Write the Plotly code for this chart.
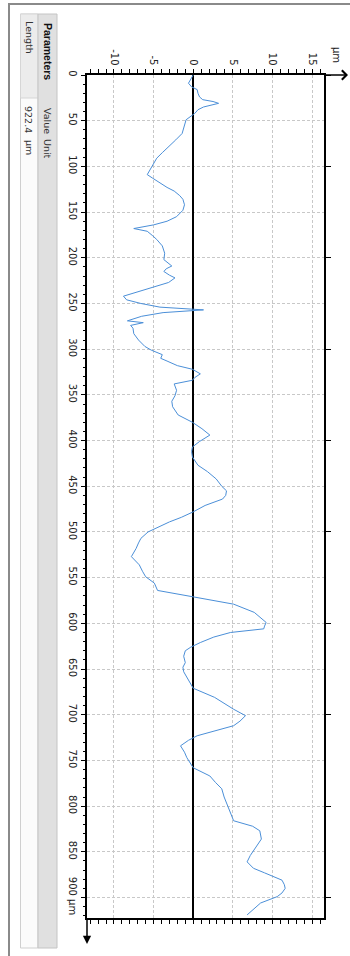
import plotly.graph_objects as go

# Surface profile: position along the trace (µm) and height (µm)
length_um = [0, 5, 9, 13, 16, 20, 24, 27, 29, 31, 33, 35, 38, 42, 49, 56, 64, 71, 78, 85, 91, 100, 105, 109,
             113, 118, 123, 127, 132, 136, 142, 148, 155, 160, 164, 168, 171, 176, 180, 187, 195, 202, 206, 209,
             212, 215, 219, 222, 227, 231, 236, 240, 242, 246, 250, 254, 257, 260, 264, 269, 271, 274, 277, 283,
             290, 297, 301, 306, 310, 313, 318, 322, 327, 331, 334, 338, 345, 351, 357, 363, 372, 380, 387, 394,
             401, 407, 412, 418, 427, 434, 442, 450, 455, 460, 464, 471, 478, 484, 489, 500, 507, 512, 518, 527,
             536, 543, 549, 556, 564, 571, 579, 588, 594, 599, 603, 606, 610, 615, 621, 626, 630, 636, 643, 648,
             653, 662, 671, 681, 688, 694, 701, 707, 712, 717, 723, 728, 734, 741, 747, 758, 767, 774, 781, 790,
             796, 805, 816, 822, 827, 836, 846, 854, 861, 868, 873, 877, 881, 886, 890, 895, 899, 906, 913, 919]
height_um = [0.0, -0.3, -0.6, -0.2, 0.5, 0.6, 0.8, 1.2, 2.5, 3.2, 2.4, 1.3, 0.6, 0.2, -0.9, -1.1, -1.4, -2.2,
             -3.1, -3.9, -4.6, -5.2, -5.5, -5.8, -5.1, -4.2, -3.3, -2.4, -1.7, -1.3, -1.1, -1.3, -2.1, -3.3,
             -5.0, -7.5, -5.8, -5.1, -4.6, -3.9, -3.6, -3.7, -3.1, -2.7, -3.4, -3.7, -3.0, -2.3, -3.1, -4.6,
             -6.3, -7.8, -8.8, -8.4, -6.6, -4.2, 1.3, -3.8, -6.5, -8.3, -6.3, -7.9, -7.6, -7.5, -6.9, -6.1,
             -5.3, -3.9, -4.1, -3.3, -2.0, -0.1, 0.9, 0.2, -0.1, -2.4, -2.1, -2.3, -2.7, -2.6, -1.9, -0.1, 1.1,
             2.1, 0.8, -0.1, -0.2, -0.1, 0.6, 1.8, 2.9, 3.6, 4.2, 4.1, 3.7, 1.5, 0.0, -1.5, -3.0, -5.7, -6.6,
             -6.9, -7.2, -7.8, -6.8, -6.4, -6.0, -4.9, -4.5, 0.0, 5.1, 7.7, 8.6, 9.2, 9.0, 8.9, 4.7, 2.6, 0.9,
             -0.3, -1.0, -1.2, -1.0, -1.3, -1.2, -0.6, 0.0, 2.7, 4.0, 5.1, 6.6, 5.9, 5.1, 3.0, 0.5, -0.6, -1.6,
             -1.1, -0.8, 0.0, 2.1, 2.8, 3.6, 3.9, 4.2, 4.6, 5.1, 7.5, 8.4, 8.6, 7.8, 7.2, 6.8, 7.6, 9.0, 10.2,
             11.2, 11.5, 11.6, 11.2, 10.6, 8.5, 7.6, 6.8]

height_ticks = [-10, -5, 0, 5, 10, 15]
height_labels = ["-10", "-5", "0", "5", "10", "15"]
length_ticks = list(range(0, 901, 50))
length_labels = [str(v) for v in length_ticks[:-1]] + ["900 µm"]
length_major_right = list(range(0, 901, 100))
total_length = 922.4

param_header = ["Parameters", "Value", "Unit"]
param_row = ["Length", "922.4", "µm"]

W, H = 350, 956
L, R, T, B = 87, 324, 75, 918  # plot box in pixels


def px(xp):
    return (xp - L) / (R - L)


def py(yp):
    return (B - yp) / (B - T)


font = "DejaVu Sans"
ink = "#222222"
grid = "#c8c8c8"
dash = "3px,2px"

fig = go.Figure()
fig.add_trace(go.Scatter(x=height_um, y=length_um, mode="lines",
                         line=dict(color="#4b8fd8", width=1), hoverinfo="skip",
                         showlegend=False))
# invisible copy that carries the right-hand tick axis
fig.add_trace(go.Scatter(x=height_um, y=length_um, mode="lines", yaxis="y2",
                         line=dict(color="rgba(0,0,0,0)", width=0), hoverinfo="skip",
                         showlegend=False))

fig.update_layout(
    width=W, height=H,
    margin=dict(l=L, r=W - R, t=T, b=H - B),
    paper_bgcolor="white", plot_bgcolor="white",
    font=dict(family=font, size=10, color=ink),
    xaxis=dict(side="top", range=[-13.4, 16.5], tickmode="array",
               tickvals=height_ticks, ticktext=height_labels, tickangle=90,
               ticks="outside", ticklen=4, tickcolor="black", tickwidth=1,
               minor=dict(dtick=1, ticks="outside", ticklen=2, tickcolor="black", showgrid=False),
               showline=True, linecolor="black", linewidth=2, mirror="allticks",
               showgrid=True, gridcolor=grid, griddash=dash, gridwidth=1,
               zeroline=True, zerolinecolor="black", zerolinewidth=2,
               tickfont=dict(family=font, size=10, color=ink)),
    yaxis=dict(range=[total_length, 0], tickmode="array", tickvals=length_ticks,
               ticktext=length_labels, tickangle=90,
               ticks="outside", ticklen=4, tickcolor="black", tickwidth=1,
               minor=dict(dtick=10, ticks="outside", ticklen=2, tickcolor="black", showgrid=False),
               showline=True, linecolor="black", linewidth=2, mirror=True,
               showgrid=True, gridcolor=grid, griddash=dash, gridwidth=1,
               zeroline=False, tickfont=dict(family=font, size=10, color=ink)),
    yaxis2=dict(overlaying="y", side="right", matches="y", range=[total_length, 0],
                tickmode="array", tickvals=length_major_right, showticklabels=False,
                ticks="outside", ticklen=6, tickcolor="black", showgrid=False,
                zeroline=False, showline=False),
)

shapes = []
# outer frame
shapes.append(dict(type="rect", xref="paper", yref="paper", x0=px(9), x1=px(360),
                   y0=py(970), y1=py(4), line=dict(color="#8a8a8a", width=2),
                   fillcolor="rgba(0,0,0,0)", layer="below"))
# parameter table: data column and header column
shapes.append(dict(type="rect", xref="paper", yref="paper", x0=px(20.5), x1=px(38),
                   y0=py(948), y1=py(14), line=dict(color="#cfcfcf", width=1),
                   fillcolor="#fbfbfb", layer="below"))
shapes.append(dict(type="rect", xref="paper", yref="paper", x0=px(20.5), x1=px(38),
                   y0=py(98), y1=py(14), line=dict(color="#d6d6d6", width=1),
                   fillcolor="#ececec", layer="below"))
shapes.append(dict(type="rect", xref="paper", yref="paper", x0=px(38), x1=px(57),
                   y0=py(948), y1=py(14), line=dict(color="#c4c4c4", width=1),
                   fillcolor="#e0e0e0", layer="below"))
fig.update_layout(shapes=shapes)


def label(xc, yc, text, size=9.5, color="#333", family=font):
    return dict(xref="paper", yref="paper", x=px(xc), y=py(yc), text=text,
                xanchor="center", yanchor="middle", textangle=90, showarrow=False,
                font=dict(family=family, size=size, color=color))


ann = []
# axis arrows
ann.append(dict(xref="paper", yref="paper", x=px(348), y=py(T), ax=-(348 - R), ay=0,
                axref="pixel", ayref="pixel", showarrow=True, arrowhead=4,
                arrowsize=1.3, arrowwidth=1.4, arrowcolor="black", text=""))
ann.append(dict(xref="paper", yref="paper", x=px(L), y=py(944), ax=0, ay=-(944 - B),
                axref="pixel", ayref="pixel", showarrow=True, arrowhead=2,
                arrowsize=1.1, arrowwidth=1.5, arrowcolor="black", text=""))
ann.append(label(337, 55, "µm", size=10, color=ink))
# parameter table text
ann.append(label(48, 51, "<b>" + param_header[0] + "</b>", size=10.5, color="#111",
                 family="Liberation Sans"))
ann.append(label(48, 121, param_header[1]))
ann.append(label(48, 149, param_header[2]))
ann.append(label(29, 37, param_row[0]))
ann.append(label(29, 119, param_row[1]))
ann.append(label(29, 147, param_row[2]))
fig.update_layout(annotations=ann)

fig.write_html("out.html")
